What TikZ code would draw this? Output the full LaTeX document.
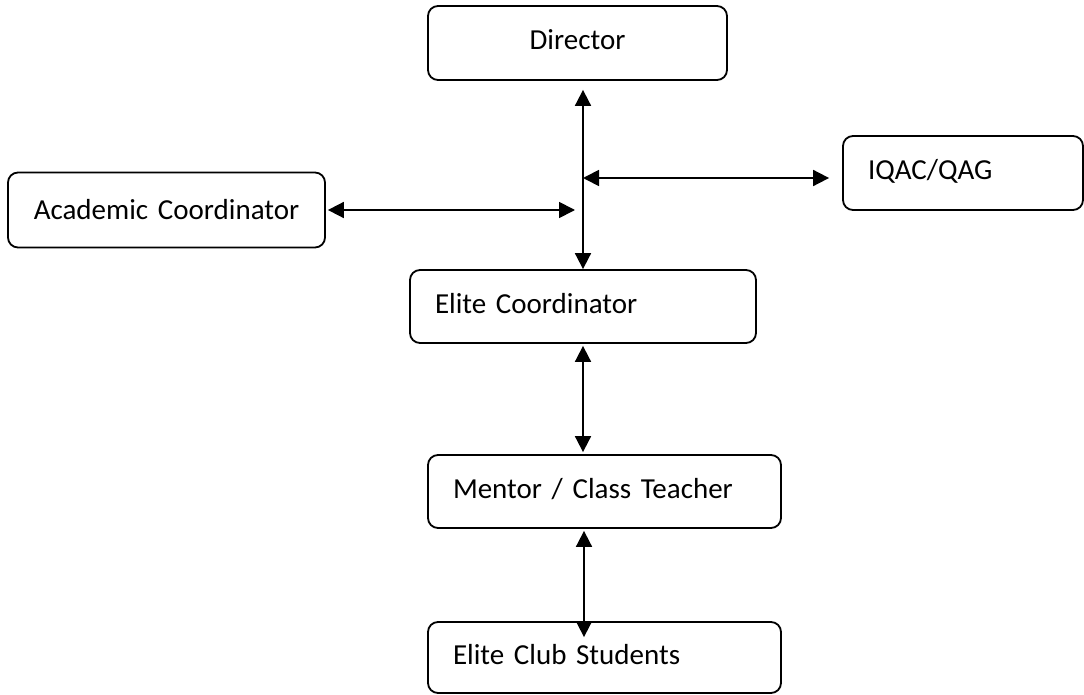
\documentclass[tikz,border=0pt]{standalone}
\usepackage{fontspec}
\setmainfont{Carlito}
\usetikzlibrary{arrows.meta,calc}
\begin{document}
\begin{tikzpicture}[x=1pt,y=-1pt,
  box/.style={draw, line width=1.8pt, rounded corners=10pt, inner xsep=25pt, inner ysep=0pt,
    align=left, font=\fontsize{29}{34}\selectfont, text height=19pt, text depth=6pt},
  dbl/.style={{Triangle[length=16pt,width=16pt]}-{Triangle[length=16pt,width=16pt]}, line width=1.8pt}]
\useasboundingbox (0,0) rectangle (1084,695);
\node[box, text width=249pt, minimum height=74pt, align=center] (dir) at (577.5,43) {Director};
\node[box, inner xsep=10pt, text width=297pt, minimum height=75pt, align=center, text depth=0pt] (ac) at (166.5,210) {Academic Coordinator};
\node[box, text width=190pt, minimum height=74pt] (iq) at (963,173) {IQAC/QAG};
\node[box, text width=296pt, minimum height=73pt] (ec) at (583,306.5) {Elite Coordinator};
\node[box, text width=303pt, minimum height=73pt] (mt) at (604.5,491.5) {Mentor / Class Teacher};
\node[box, text width=303pt, minimum height=71pt] (cs) at (604.5,657.5) {Elite Club Students};
\coordinate (vx) at (583,0);
\coordinate (ax) at (584,0);
\coordinate (iqL) at (583,178);
\coordinate (acR) at (575,210);
\draw[dbl] ($(dir.south -| vx)+(0,9)$) -- (ec.north -| vx);
\draw[dbl] (iqL) -- ($(iq.west |- iqL)+(-13,0)$);
\draw[dbl] ($(ac.east)+(2,0)$) -- (acR);
\draw[dbl] ($(ec.south)+(0,2)$) -- ($(ec.south |- mt.north)+(0,-2)$);
\draw[dbl] ($(mt.south -| ax)+(0,2)$) -- ($(cs.north -| ax)+(0,16)$);
\end{tikzpicture}
\end{document}
